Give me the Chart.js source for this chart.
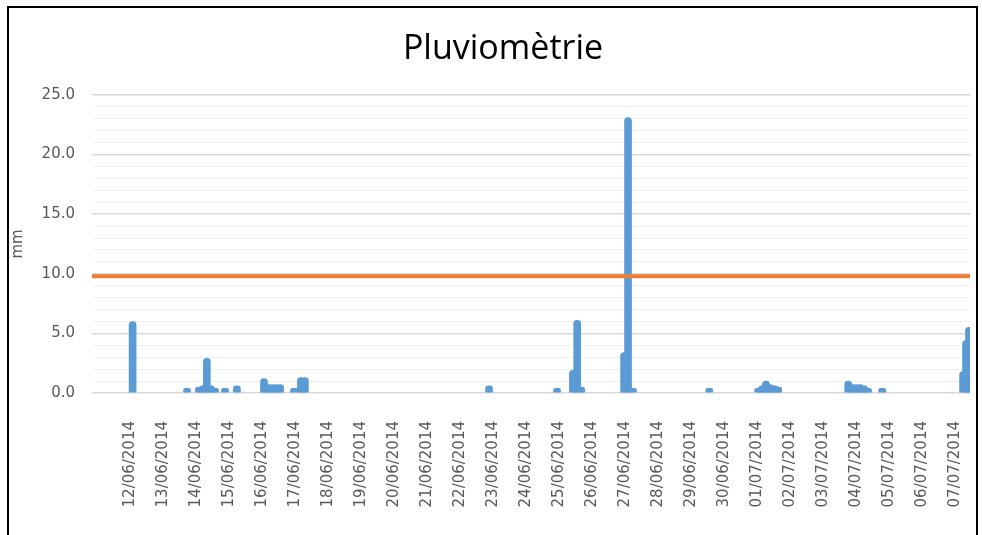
<!DOCTYPE html>
<html>
<head>
<meta charset="utf-8">
<script src="https://cdn.jsdelivr.net/npm/chart.js@4.4.1/dist/chart.umd.min.js"></script>
<style>
  html, body { margin: 0; padding: 0; background: #fff; }
  #wrap { position: relative; width: 982px; height: 535px; overflow: hidden; }
  #c { position: absolute; left: 0; top: 0; }
  #frame { position: absolute; left: 7px; top: 6px; width: 971px; height: 600px;
           border: 2px solid #000; box-sizing: border-box; pointer-events: none; }
  #title { position: absolute; left: 303px; width: 400px; top: 22px; text-align: center;
           font-family: 'Open Sans', sans-serif; font-size: 34px; line-height: 48px; color: #000; }
</style>
</head>
<body>
<div id="wrap">
  <canvas id="c" width="982" height="535"></canvas>
  <div id="title">Pluviomètrie</div>
  <div id="frame"></div>
</div>
<script>
// Category tick labels (one per day, day index 0 = 12/06/2014)
const tickDates = [
  '12/06/2014','13/06/2014','14/06/2014','15/06/2014','16/06/2014','17/06/2014',
  '18/06/2014','19/06/2014','20/06/2014','21/06/2014','22/06/2014','23/06/2014',
  '24/06/2014','25/06/2014','26/06/2014','27/06/2014','28/06/2014','29/06/2014',
  '30/06/2014','01/07/2014','02/07/2014','03/07/2014','04/07/2014','05/07/2014',
  '06/07/2014','07/07/2014'
];
// Time of each rain record, in days since 12/06/2014
const rainDay = [
  0.08,
  1.73, 2.09, 2.21, 2.33, 2.45, 2.58, 2.88, 3.24,
  4.06, 4.18, 4.30, 4.42, 4.55, 4.97, 5.18, 5.30,
  10.88, 12.94,
  13.42, 13.55, 13.67,
  14.97, 15.09, 15.24,
  17.55,
  19.03, 19.15, 19.27, 19.39, 19.52, 19.64,
  21.76, 21.88, 22.00, 22.12, 22.24, 22.36, 22.79,
  25.24, 25.33, 25.42
];
// Rainfall (mm) for each record
const rainMm = [
  6.0,
  0.4, 0.5, 0.6, 2.9, 0.6, 0.4, 0.4, 0.6,
  1.2, 0.7, 0.7, 0.7, 0.7, 0.4, 1.3, 1.3,
  0.6, 0.4,
  1.9, 6.1, 0.5,
  3.4, 23.1, 0.4,
  0.4,
  0.4, 0.6, 1.0, 0.7, 0.6, 0.5,
  1.0, 0.7, 0.7, 0.7, 0.6, 0.4, 0.4,
  1.8, 4.4, 5.5
];
// Threshold line (mm)
const thresholdMm = 9.8;
const xMin = -1.15, xMax = 25.45;

const rainPoints = rainDay.map((d, i) => ({ x: d, y: rainMm[i] }));
const thresholdPoints = [{ x: xMin, y: thresholdMm }, { x: xMax, y: thresholdMm }];

const tickFont = { family: 'DejaVu Sans', size: 15 };

new Chart(document.getElementById('c'), {
  type: 'bar',
  data: {
    datasets: [
      {
        type: 'line',
        label: 'Seuil',
        data: thresholdPoints,
        borderColor: '#ED7D31',
        borderWidth: 4,
        pointRadius: 0,
        order: 0
      },
      {
        type: 'bar',
        label: 'Pluie',
        data: rainPoints,
        backgroundColor: '#5B9BD5',
        barThickness: 7,
        borderRadius: 3.5,
        order: 1
      }
    ]
  },
  options: {
    responsive: false,
    animation: false,
    layout: { padding: { left: 0, right: 12, top: 95, bottom: 0 } },
    plugins: {
      legend: { display: false },
      tooltip: { enabled: false },
      title: { display: false }
    },
    scales: {
      x: {
        type: 'linear',
        min: xMin,
        max: xMax,
        offset: false,
        grid: { display: false },
        border: { display: false },
        afterBuildTicks: (scale) => { scale.ticks = tickDates.map((_, i) => ({ value: i })); },
        afterFit: (scale) => { scale.height = 142; scale.paddingLeft = 0; scale.paddingRight = 0; },
        ticks: {
          autoSkip: false,
          maxRotation: 90,
          minRotation: 90,
          padding: 20,
          color: '#595959',
          font: tickFont,
          callback: (v, i) => tickDates[i]
        }
      },
      y: {
        min: 0,
        max: 25,
        border: { display: false },
        afterFit: (scale) => { scale.width = 92; scale.paddingTop = 0; scale.paddingBottom = 0; },
        grid: {
          drawTicks: false,
          color: (ctx) => (ctx.tick && ctx.tick.value % 5 === 0) ? '#d9d9d9' : '#f0f0f0',
          lineWidth: (ctx) => (ctx.tick && ctx.tick.value % 5 === 0) ? 1.5 : 1
        },
        ticks: {
          stepSize: 1,
          autoSkip: false,
          padding: 17,
          color: '#595959',
          font: tickFont,
          callback: (v) => (v % 5 === 0) ? v.toFixed(1) : ''
        },
        title: {
          display: true,
          text: 'mm',
          color: '#595959',
          font: { family: 'DejaVu Sans', size: 15 },
          padding: { top: 9, bottom: 0 }
        }
      }
    }
  }
});
</script>
</body>
</html>
